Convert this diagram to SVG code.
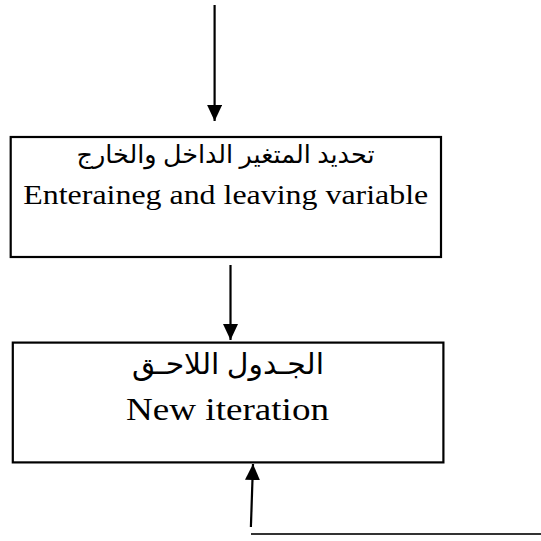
<svg xmlns="http://www.w3.org/2000/svg" width="541" height="541" viewBox="0 0 541 541">
<style>
.box{fill:#fff;stroke:#000;stroke-width:2.2}
.con{stroke:#000;stroke-width:2.2;fill:none}
.en{font-family:"Liberation Serif","Times New Roman",serif;fill:#000;text-anchor:middle}
.ar{font-family:"Liberation Serif","DejaVu Sans","Noto Sans",sans-serif;fill:#000;text-anchor:middle;direction:rtl}
</style>
<defs>
<marker id="ah" markerUnits="userSpaceOnUse" markerWidth="16" markerHeight="15" refX="16" refY="7.5" orient="auto">
<path d="M0,0 L16,7.5 L0,15 z" fill="#000"/>
</marker>
</defs>
<rect width="541" height="541" fill="#fff"/>
<g id="connectors">
<line class="con" x1="214.6" y1="5" x2="214.6" y2="121" marker-end="url(#ah)"/>
<line class="con" x1="230.5" y1="265" x2="230.5" y2="340" marker-end="url(#ah)"/>
<line class="con" x1="250.9" y1="527" x2="253" y2="464" marker-end="url(#ah)"/>
<line x1="251" y1="534" x2="541" y2="534" stroke="#333" stroke-width="1.8"/>
</g>
<g id="node-entering-leaving">
<rect class="box" x="10.7" y="137" width="430.3" height="120"/>
<text class="ar" x="225.5" y="163" font-size="25" textLength="298" lengthAdjust="spacingAndGlyphs">تحديد المتغير الداخل والخارج</text>
<text class="en" transform="translate(225.75,204) scale(1.14,1)" x="0" y="0" font-size="28">Enteraineg and leaving variable</text>
</g>
<g id="node-new-iteration">
<rect class="box" x="12.8" y="342.6" width="430.6" height="119.8"/>
<text class="ar" x="228" y="374" font-size="29" textLength="192" lengthAdjust="spacingAndGlyphs">الجـدول اللاحـق</text>
<text class="en" transform="translate(227.5,420) scale(1.197,1)" x="0" y="0" font-size="31">New iteration</text>
</g>
</svg>
